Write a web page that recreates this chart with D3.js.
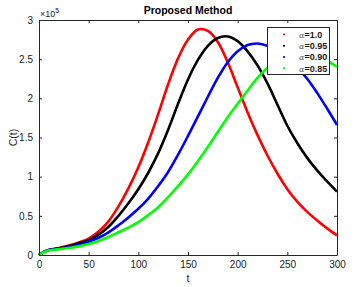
<!DOCTYPE html>
<html>
<head>
<meta charset="utf-8">
<script src="https://cdn.jsdelivr.net/npm/d3@7"></script>
<style>
  body { margin: 0; background: #fff; }
  text { font-family: "Liberation Sans", Arial, sans-serif; }
</style>
</head>
<body>
<div id="chart"></div>
<script>
// time steps (t) and C(t) in units of 1e5
var tValues = [0, 5, 10, 20, 30, 40, 50, 60, 70, 80, 90, 100, 110, 120, 130, 140, 150,
               160, 170, 180, 190, 200, 210, 220, 230, 240, 250, 260, 270, 280, 290, 300];

var alpha100 = [0, 0.04, 0.065, 0.09, 0.12, 0.16, 0.21, 0.30, 0.43, 0.62, 0.85, 1.12, 1.44, 1.80, 2.18, 2.51, 2.75,
                2.88, 2.86, 2.72, 2.46, 2.14, 1.82, 1.53, 1.27, 1.04, 0.84, 0.68, 0.55, 0.44, 0.34, 0.25];
var alpha095 = [0, 0.04, 0.065, 0.085, 0.11, 0.15, 0.19, 0.26, 0.36, 0.50, 0.66, 0.84, 1.05, 1.30, 1.60, 1.93, 2.24,
                2.49, 2.67, 2.77, 2.79, 2.73, 2.60, 2.42, 2.19, 1.92, 1.65, 1.43, 1.24, 1.08, 0.94, 0.81];
var alpha090 = [0, 0.04, 0.065, 0.08, 0.10, 0.13, 0.17, 0.22, 0.29, 0.38, 0.48, 0.59, 0.72, 0.88, 1.06, 1.28, 1.52,
                1.77, 2.02, 2.26, 2.46, 2.60, 2.68, 2.70, 2.67, 2.60, 2.50, 2.39, 2.25, 2.07, 1.87, 1.66];
var alpha085 = [0, 0.035, 0.06, 0.075, 0.09, 0.11, 0.14, 0.18, 0.23, 0.29, 0.35, 0.42, 0.51, 0.61, 0.74, 0.88, 1.03,
                1.20, 1.38, 1.57, 1.76, 1.93, 2.10, 2.26, 2.39, 2.48, 2.54, 2.56, 2.56, 2.53, 2.48, 2.40];

var seriesNames = ["=1.0", "=0.95", "=0.90", "=0.85"];
var seriesColors = ["#ff0000", "#000000", "#0000ff", "#00ff00"];
var seriesValues = [alpha100, alpha095, alpha090, alpha085];

var xTicks = [0, 50, 100, 150, 200, 250, 300];
var yTicks = [0, 0.5, 1, 1.5, 2, 2.5, 3];

var WIDTH = 355, HEIGHT = 287;
// plot box (window.top is reserved, so use other names)
var boxL = 39, boxR = 337, boxT = 20, boxB = 255;
var axisColor = "#262626";

var svg = d3.select("#chart").append("svg")
    .attr("width", WIDTH)
    .attr("height", HEIGHT);

var x = d3.scaleLinear().domain([0, 300]).range([boxL, boxR]);
var y = d3.scaleLinear().domain([0, 3]).range([boxB, boxT]);

// curves
var line = d3.line()
    .x(function (d) { return x(d[0]); })
    .y(function (d) { return y(d[1]); })
    .curve(d3.curveCatmullRom.alpha(0.5));

seriesValues.forEach(function (vals, i) {
    svg.append("path")
        .datum(tValues.map(function (t, j) { return [t, vals[j]]; }))
        .attr("fill", "none")
        .attr("stroke", seriesColors[i])
        .attr("stroke-width", 2.6)
        .attr("d", line);
});

// axes, ticks pointing inward like matlab
var tickLen = 3;
function styleAxis(g) {
    g.selectAll("path").attr("stroke", axisColor);
    g.selectAll("line").attr("stroke", axisColor);
    g.selectAll("text").attr("fill", "#1a1a1a").style("font-size", "10px");
}

svg.append("g")
    .attr("transform", "translate(0," + boxB + ")")
    .call(d3.axisBottom(x).tickValues(xTicks).tickSizeInner(-tickLen).tickSizeOuter(0).tickPadding(6))
    .call(styleAxis);
svg.append("g")
    .attr("transform", "translate(0," + boxT + ")")
    .call(d3.axisTop(x).tickValues(xTicks).tickSizeInner(-tickLen).tickSizeOuter(0).tickFormat(""))
    .call(styleAxis);
svg.append("g")
    .attr("transform", "translate(" + boxL + ",0)")
    .call(d3.axisLeft(y).tickValues(yTicks).tickSizeInner(-tickLen).tickSizeOuter(0).tickPadding(6)
        .tickFormat(function (d) { return d; }))
    .call(styleAxis);
svg.append("g")
    .attr("transform", "translate(" + boxR + ",0)")
    .call(d3.axisRight(y).tickValues(yTicks).tickSizeInner(-tickLen).tickSizeOuter(0).tickFormat(""))
    .call(styleAxis);

// exponent
var expo = svg.append("text")
    .attr("x", boxL + 1)
    .attr("y", boxT - 3)
    .attr("fill", "#1a1a1a")
    .style("font-size", "9px");
expo.append("tspan").text("\u00d710");
expo.append("tspan").attr("dy", -4).style("font-size", "7px").text("5");

// title and labels
svg.append("text")
    .attr("x", (boxL + boxR) / 2)
    .attr("y", 14)
    .attr("text-anchor", "middle")
    .style("font-size", "10.5px")
    .style("font-weight", "bold")
    .text("Proposed Method");

svg.append("text")
    .attr("x", (boxL + boxR) / 2)
    .attr("y", 282)
    .attr("text-anchor", "middle")
    .style("font-size", "10.5px")
    .attr("fill", "#1a1a1a")
    .text("t");

svg.append("text")
    .attr("transform", "translate(17," + ((boxT + boxB) / 2) + ") rotate(-90)")
    .attr("text-anchor", "middle")
    .style("font-size", "10.5px")
    .attr("fill", "#1a1a1a")
    .text("C(t)");

// legend
var legend = svg.append("g");
legend.append("rect")
    .attr("x", 267.5).attr("y", 27.5)
    .attr("width", 62).attr("height", 47)
    .attr("fill", "#fff")
    .attr("stroke", axisColor)
    .attr("stroke-width", 1);

seriesNames.forEach(function (name, i) {
    var ly = 34.5 + i * 11.3;
    legend.append("circle")
        .attr("cx", 284).attr("cy", ly)
        .attr("r", 1.1)
        .attr("fill", seriesColors[i]);
    var t = legend.append("text")
        .attr("x", 299).attr("y", ly + 3.2)
        .style("font-size", "9px")
        .attr("fill", "#1a1a1a");
    t.append("tspan")
        .style("font-family", "'DejaVu Serif', serif")
        .style("font-style", "italic")
        .style("font-size", "8px")
        .attr("fill", "#555")
        .text("\u03b1");
    t.append("tspan")
        .style("font-weight", "bold")
        .text(name);
});
</script>
</body>
</html>
